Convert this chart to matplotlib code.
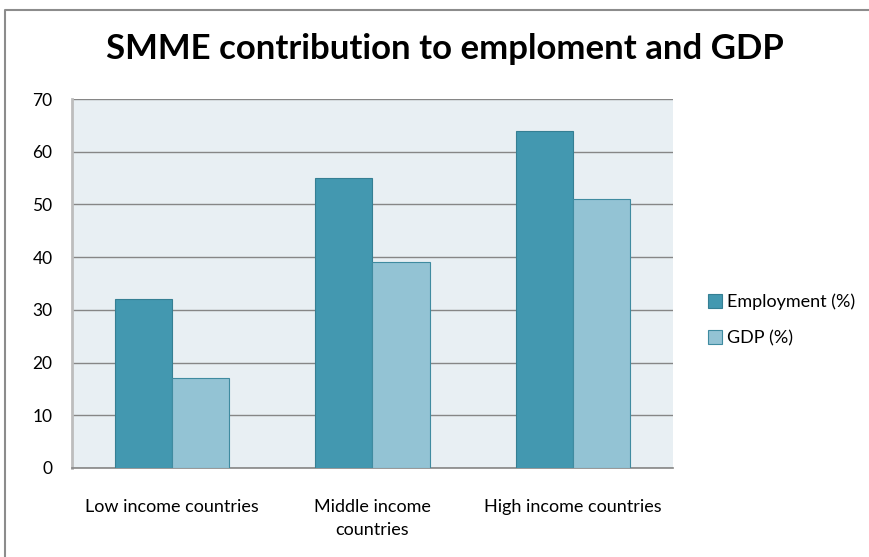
#!/usr/bin/env python3
"""SMME contribution to employment and GDP, grouped bar chart."""

import matplotlib

matplotlib.use("Agg")
import matplotlib.pyplot as plt
import numpy as np
from matplotlib.lines import Line2D

categories = ["Low income countries", "Middle income\ncountries", "High income countries"]
employment = [32, 55, 64]
gdp = [17, 39, 51]
series_names = ["Employment (%)", "GDP (%)"]
y_ticks = [0, 10, 20, 30, 40, 50, 60, 70]

plt.rcParams["font.family"] = ["Lato", "DejaVu Sans"]

fig = plt.figure(figsize=(8.7, 5.57), dpi=100)
ax = fig.add_axes([72 / 870, 1 - 468 / 557, 601 / 870, 369 / 557])

# outer chart frame: only the top and left edges fall inside the image
frame_x, frame_y = 5 / 870, 1 - 10 / 557
fig.lines.append(Line2D([frame_x, frame_x, 1.0], [0.0, frame_y, frame_y],
                        transform=fig.transFigure, color="#8c8c8c", linewidth=1.5))

x = np.arange(len(categories))
width = 0.285
ax.bar(x - width / 2, employment, width, color="#4398b0", edgecolor="#357f93", linewidth=0.8,
       label=series_names[0], zorder=3)
ax.bar(x + width / 2, gdp, width, color="#93c3d4", edgecolor="#3f8ba0", linewidth=0.8,
       label=series_names[1], zorder=3)

ax.set_facecolor("#e8eff3")
ax.set_xlim(-0.5, 2.5)
ax.set_ylim(0, 70)
ax.set_yticks(y_ticks)
ax.yaxis.grid(True, color="#868686", linewidth=1.0, zorder=1)
ax.set_axisbelow(True)
ax.tick_params(axis="y", length=0, pad=14, labelsize=12.5)
ax.tick_params(axis="x", length=0, pad=22, labelsize=13)
ax.set_xticks(x)
ax.set_xticklabels(categories, linespacing=1.6)
for side in ("top", "right"):
    ax.spines[side].set_visible(False)
ax.spines["left"].set_color("#bdbdbd")
ax.spines["left"].set_linewidth(2)
ax.spines["bottom"].set_color("#868686")
ax.spines["bottom"].set_linewidth(1.2)

fig.text(445 / 870, 1 - 49 / 557, "SMME contribution to emploment and GDP",
         ha="center", va="center", fontsize=25, fontweight="bold")

fig.legend(loc="center left", bbox_to_anchor=(692 / 870, 1 - 320 / 557), frameon=False,
           fontsize=13, handlelength=0.75, handleheight=0.75, handletextpad=0.3,
           labelspacing=1.1)

fig.savefig("out.png", dpi=100)
